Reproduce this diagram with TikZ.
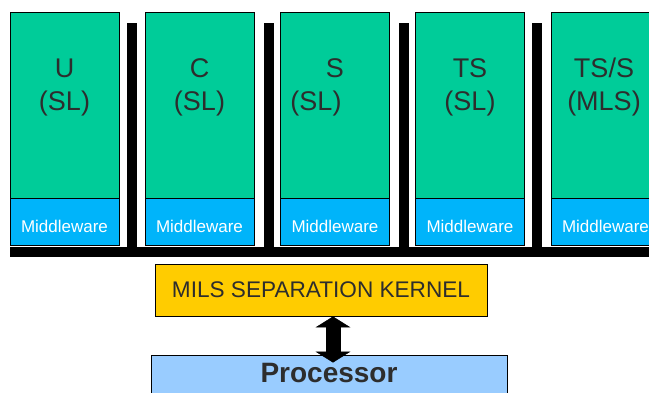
\documentclass[tikz,border=0pt]{standalone}
\usepackage{fontspec}
\setmainfont{Liberation Sans}
\usetikzlibrary{arrows.meta}
\definecolor{partgreen}{RGB}{0,204,153}
\definecolor{midblue}{RGB}{0,180,250}
\definecolor{kernelyellow}{RGB}{255,204,0}
\definecolor{procblue}{RGB}{153,204,255}
\definecolor{txtgray}{RGB}{45,45,45}
\begin{document}
\begin{tikzpicture}[x=1pt,y=-1pt,
  partbox/.style={draw=black,line width=0.9pt,fill=partgreen,minimum width=109pt,minimum height=186pt,inner sep=0pt},
  midbox/.style={draw=black,line width=0.9pt,fill=midblue,minimum width=109pt,minimum height=47pt,inner sep=0pt},
  lbl/.style={text=txtgray,font=\fontsize{27}{30}\selectfont,anchor=base,inner sep=0pt},
  midlbl/.style={text=white,font=\fontsize{17}{20}\selectfont,anchor=base,inner sep=0pt},
  sepbar/.style={fill=black},
  blockarrow/.style={line width=15pt,{Triangle[width=35pt,length=11pt,line width=0.5pt]}-{Triangle[width=35pt,length=11pt,line width=0.5pt]}}]
\clip (0,0) rectangle (649,392);
\fill[white] (0,0) rectangle (649,392);
% separation bars
\fill[sepbar] (10,247) rectangle (670,257);
\foreach \x in {127,264,399,532} \fill[sepbar] (\x,23) rectangle (\x+10,247);
% partitions
\foreach \i/\cx in {1/64.5,2/199.5,3/335,4/470,5/605.5}{
  \node[partbox] (part\i) at (\cx,105) {};
  \node[midbox] (mw\i) at (\cx,221.5) {};
  \node[midlbl] (mwl\i) at (\cx,232) {Middleware};
}
\node[lbl] (l1a) at (64.5,77) {U};
\node[lbl] (l1b) at (64.5,110) {(SL)};
\node[lbl] (l2a) at (199.5,77) {C};
\node[lbl] (l2b) at (199.5,110) {(SL)};
\node[lbl] (l3a) at (335,77) {S};
\node[lbl] (l3b) at (316,110) {(SL)};
\node[lbl] (l4a) at (470,77) {TS};
\node[lbl] (l4b) at (470,110) {(SL)};
\node[lbl] (l5a) at (604,77) {TS/S};
\node[lbl] (l5b) at (604,110) {(MLS)};
% kernel
\node[draw=black,line width=0.9pt,fill=kernelyellow,minimum width=332pt,minimum height=52pt,inner sep=0pt,
      text=txtgray,font=\fontsize{22.6}{26}\selectfont] (kern) at (321,290) {MILS SEPARATION KERNEL};
% processor
\node[draw=black,line width=0.9pt,fill=procblue,minimum width=356pt,minimum height=60pt,inner sep=0pt] (proc) at (329,385) {};
\node[text=txtgray,font=\bfseries\fontsize{28}{32}\selectfont,anchor=base,inner sep=0pt] (proct) at (329,382) {Processor};
% arrow
\draw[blockarrow] ([xshift=12pt]kern.south) -- ([xshift=4pt,yshift=-8pt]proc.north);
\end{tikzpicture}
\end{document}
